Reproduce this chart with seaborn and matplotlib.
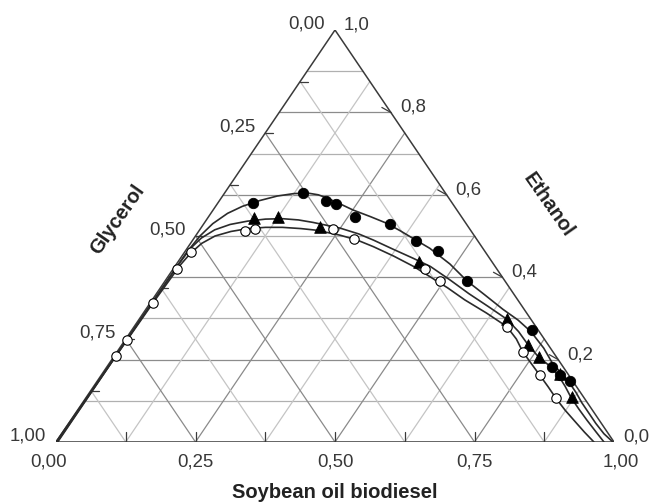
import numpy as np
import pandas as pd
import matplotlib.pyplot as plt
import seaborn as sns

# readings as (soybean oil biodiesel, ethanol) mass fractions; glycerol = 1 - b - e
circ_biodiesel = [0.063, 0.140, 0.192, 0.212, 0.264, 0.334, 0.401, 0.453, 0.541, 0.717, 0.797, 0.822, 0.847]
circ_ethanol = [0.579, 0.605, 0.584, 0.578, 0.545, 0.529, 0.489, 0.464, 0.391, 0.272, 0.183, 0.163, 0.149]

tri_biodiesel = [0.084, 0.126, 0.213, 0.431, 0.659, 0.729, 0.762, 0.821, 0.869]
tri_ethanol = [0.543, 0.545, 0.521, 0.438, 0.298, 0.235, 0.206, 0.165, 0.110]

open_biodiesel = [0.003, 0.004, 0.005, 0.007, 0.011, 0.083, 0.099, 0.237, 0.288,
                  0.450, 0.492, 0.668, 0.727, 0.785, 0.843]
open_ethanol = [0.209, 0.248, 0.338, 0.419, 0.462, 0.512, 0.516, 0.518, 0.492,
                0.421, 0.391, 0.280, 0.219, 0.163, 0.106]

# binodal curves
curve1_biodiesel = [0.000, 0.002, 0.003, 0.004, 0.008, 0.016, 0.030, 0.048, 0.072, 0.098, 0.125,
                    0.150, 0.170, 0.190, 0.220, 0.251, 0.290, 0.327, 0.360, 0.393, 0.435, 0.490,
                    0.541, 0.590, 0.640, 0.680, 0.717, 0.760, 0.797, 0.825, 0.847, 0.872, 0.895,
                    0.920, 0.945, 0.972, 0.998]
curve1_ethanol = [0.000, 0.150, 0.300, 0.460, 0.500, 0.530, 0.555, 0.572, 0.586, 0.597, 0.603,
                  0.604, 0.600, 0.592, 0.578, 0.563, 0.547, 0.531, 0.513, 0.494, 0.470, 0.432,
                  0.391, 0.357, 0.322, 0.296, 0.268, 0.228, 0.188, 0.165, 0.145, 0.120, 0.095,
                  0.070, 0.045, 0.020, 0.000]

curve2_biodiesel = [0.003, 0.003, 0.003, 0.004, 0.006, 0.013, 0.027, 0.048, 0.075, 0.105, 0.135,
                    0.165, 0.194, 0.250, 0.290, 0.324, 0.370, 0.417, 0.458, 0.510, 0.560, 0.610,
                    0.659, 0.695, 0.729, 0.762, 0.792, 0.821, 0.845, 0.869, 0.897, 0.925, 0.955,
                    0.982]
curve2_ethanol = [0.000, 0.150, 0.300, 0.430, 0.470, 0.495, 0.515, 0.528, 0.536, 0.541, 0.542,
                  0.539, 0.533, 0.519, 0.505, 0.490, 0.468, 0.446, 0.426, 0.393, 0.360, 0.329,
                  0.298, 0.268, 0.235, 0.206, 0.185, 0.160, 0.135, 0.108, 0.080, 0.053, 0.025,
                  0.000]

curve3_biodiesel = [0.002, 0.003, 0.005, 0.008, 0.012, 0.020, 0.035, 0.058, 0.085, 0.115, 0.145,
                    0.180, 0.210, 0.258, 0.295, 0.332, 0.380, 0.428, 0.470, 0.515, 0.560, 0.615,
                    0.668, 0.700, 0.727, 0.757, 0.785, 0.815, 0.843, 0.874, 0.905, 0.935, 0.964]
curve3_ethanol = [0.000, 0.209, 0.338, 0.430, 0.458, 0.482, 0.500, 0.511, 0.518, 0.521, 0.521,
                  0.518, 0.514, 0.502, 0.490, 0.474, 0.451, 0.426, 0.401, 0.374, 0.345, 0.313,
                  0.280, 0.250, 0.219, 0.190, 0.163, 0.134, 0.106, 0.077, 0.050, 0.024, 0.000]

bottom_ticks = ['0,00', '0,25', '0,50', '0,75', '1,00']
left_ticks = ['1,00', '0,75', '0,50', '0,25', '0,00']
right_ticks = ['0,0', '0,2', '0,4', '0,6', '0,8', '1,0']


def to_xy(b, e):
    b = np.asarray(b, dtype=float)
    e = np.asarray(e, dtype=float)
    return b + e / 2, e


sns.set_style('white')
plt.rcParams['font.family'] = ['Liberation Sans', 'DejaVu Sans']

fig = plt.figure(figsize=(6.51, 5.04), dpi=100)
ax = fig.add_axes([56 / 651, 62 / 504, 558 / 651, 412 / 504])
ax.set_xlim(0, 1)
ax.set_ylim(0, 1)
ax.axis('off')

# grid
for k in range(1, 10):
    e = k / 10
    x, y = to_xy([0, 1 - e], [e, e])
    ax.plot(x, y, color='#8c8c8c' if k % 2 == 0 else '#b0b0b0', lw=0.9, zorder=1)
for k in range(1, 8):
    f = k / 8
    col = '#8a8a8a' if k % 2 == 0 else '#c4c4c4'
    x, y = to_xy([f, f], [0, 1 - f])
    ax.plot(x, y, color=col, lw=0.9, zorder=1)
    x, y = to_xy([f, 0], [0, f])
    ax.plot(x, y, color=col, lw=0.9, zorder=1)

# triangle frame
x, y = to_xy([0, 1, 0, 0], [0, 0, 1, 0])
ax.plot(x, y, color='#3a3a3a', lw=1.1, zorder=2)

# small ticks
for k in range(1, 8):
    f = k / 8
    x, y = to_xy([f, f - 0.012], [0, 0.024])
    ax.plot(x, y, color='#3a3a3a', lw=0.9, zorder=2)
    x, y = to_xy([0, 0.014], [f, f])
    ax.plot(x, y, color='#3a3a3a', lw=0.9, zorder=2)
for k in range(1, 5):
    e = k / 5
    x, y = to_xy([1 - e - 0.022, 1 - e], [e + 0.012, e])
    ax.plot(x, y, color='#3a3a3a', lw=0.9, zorder=2)

# curves
for cb, ce in [(curve1_biodiesel, curve1_ethanol),
               (curve2_biodiesel, curve2_ethanol),
               (curve3_biodiesel, curve3_ethanol)]:
    x, y = to_xy(cb, ce)
    sns.lineplot(x=x, y=y, sort=False, estimator=None, color='#2b2b2b', lw=1.2, ax=ax, zorder=3)

# experimental points
x, y = to_xy(circ_biodiesel, circ_ethanol)
sns.scatterplot(x=x, y=y, marker='o', s=56, color='black', edgecolor='black', linewidth=0.6, ax=ax, zorder=4)
x, y = to_xy(tri_biodiesel, tri_ethanol)
sns.scatterplot(x=x, y=y, marker='^', s=70, color='black', edgecolor='black', linewidth=0.6, ax=ax, zorder=4)
x, y = to_xy(open_biodiesel, open_ethanol)
sns.scatterplot(x=x, y=y, marker='o', s=46, color='white', edgecolor='black', linewidth=0.8, ax=ax, zorder=4)

# tick labels
tick_kw = dict(textcoords='offset pixels', fontsize=13.4, color='#383838',
               ha='center', va='center', annotation_clip=False)
shift = [-7, 0, 0, 0, 7]
for i, lab in enumerate(bottom_ticks):
    ax.annotate(lab, to_xy(i / 4, 0), xytext=(shift[i], -20), **tick_kw)
for i, lab in enumerate(left_ticks):
    ax.annotate(lab, to_xy(0, i / 4), xytext=(-28, 6), **tick_kw)
for i, lab in enumerate(right_ticks):
    ax.annotate(lab, to_xy(1 - i / 5, i / 5), xytext=(22, 5), **tick_kw)

# axis titles
title_kw = dict(fontsize=14.5, fontweight='bold', color='#222222', ha='center', va='center')
fig.text(335 / 651, 1 - 492 / 504, 'Soybean oil biodiesel', **title_kw)
fig.text(117 / 651, 1 - 220 / 504, 'Glycerol', rotation=55, **title_kw)
fig.text(548 / 651, 1 - 205 / 504, 'Ethanol', rotation=-55, **title_kw)

fig.savefig('out.png', dpi=100)
